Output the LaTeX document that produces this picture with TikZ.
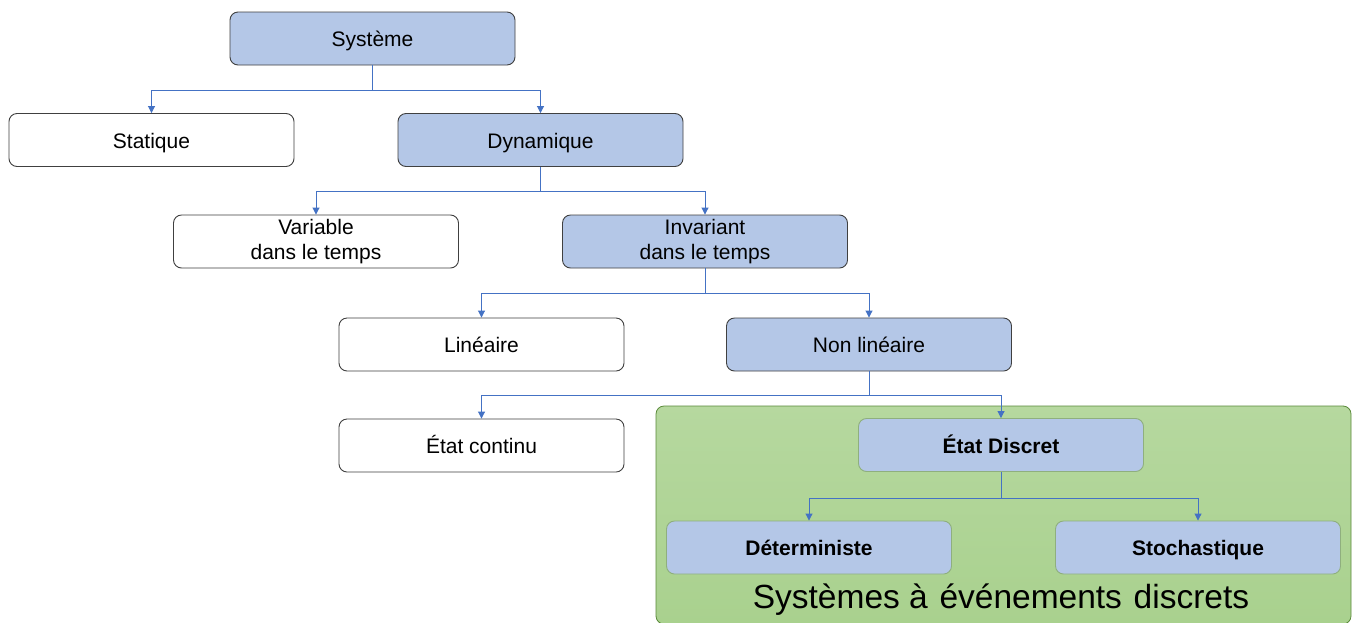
\documentclass[tikz,border=0pt]{standalone}
\usepackage{fontspec}
\setmainfont{Liberation Sans}
\usetikzlibrary{arrows.meta}
\definecolor{boxblue}{HTML}{B4C7E7}
\definecolor{linkblue}{HTML}{4472C4}
\definecolor{greenfill}{HTML}{A9D18E}
\definecolor{greenedge}{HTML}{70AD47}
\definecolor{innerborder}{HTML}{8FAF7E}
\tikzset{
  box/.style={draw=black!75, line width=0.9pt, rounded corners=8pt, minimum width=285pt, minimum height=53pt, inner sep=0pt, font=\fontsize{21}{25.5}\selectfont, align=center},
  one/.style={text height=16pt, text depth=0pt},
  bluebox/.style={box, fill=boxblue},
  whitebox/.style={box, fill=white},
  innerbox/.style={box, one, fill=boxblue, draw=innerborder, font=\fontsize{21}{25.5}\selectfont\bfseries},
  link/.style={draw=linkblue, line width=0.9pt, -{Triangle[length=7pt,width=7pt]}},
}
\begin{document}
\begin{tikzpicture}[x=1pt,y=-1pt]
\useasboundingbox (0,0) rectangle (1354,622);
\fill[white] (0,0) rectangle (1354,622);
% green region
\path[top color=greenfill!85!white, bottom color=greenfill, draw=greenedge!80!black, line width=0.8pt, rounded corners=8pt] (656,406) rectangle (1351,624);
\node[font=\fontsize{33.5}{40}\selectfont, anchor=base, inner sep=0pt] (sed) at (1001,608) {Systèmes à\hspace{0.35em}événements\hspace{0.35em}discrets};

\node[bluebox, one] (sys) at (372.5,38.5) {Système};
\node[whitebox, one] (stat) at (151.5,140) {Statique};
\node[bluebox, one] (dyn) at (540.5,140) {Dynamique};
\node[whitebox] (var) at (316,241.5) {Variable\\dans le temps};
\node[bluebox] (inv) at (705,241.5) {Invariant\\dans le temps};
\node[whitebox, one] (lin) at (481.5,344.5) {Linéaire};
\node[bluebox, one] (nonlin) at (869,344.5) {Non linéaire};
\node[whitebox, one] (cont) at (481.5,445.5) {État continu};
\node[innerbox] (disc) at (1001,445) {État Discret};
\node[innerbox] (det) at (809,547.5) {Déterministe};
\node[innerbox] (sto) at (1198,547.5) {Stochastique};

\draw[link] (sys.south) -- ++(0,25) -| (stat.north);
\draw[link] (sys.south) -- ++(0,25) -| (dyn.north);
\draw[link] (dyn.south) -- ++(0,24) -| (var.north);
\draw[link] (dyn.south) -- ++(0,24) -| (inv.north);
\draw[link] (inv.south) -- ++(0,25) -| (lin.north);
\draw[link] (inv.south) -- ++(0,25) -| (nonlin.north);
\draw[link] (nonlin.south) -- ++(0,24) -| (cont.north);
\draw[link] (nonlin.south) -- ++(0,24) -| (disc.north);
\draw[link] (disc.south) -- ++(0,26) -| (det.north);
\draw[link] (disc.south) -- ++(0,26) -| (sto.north);
\end{tikzpicture}
\end{document}
